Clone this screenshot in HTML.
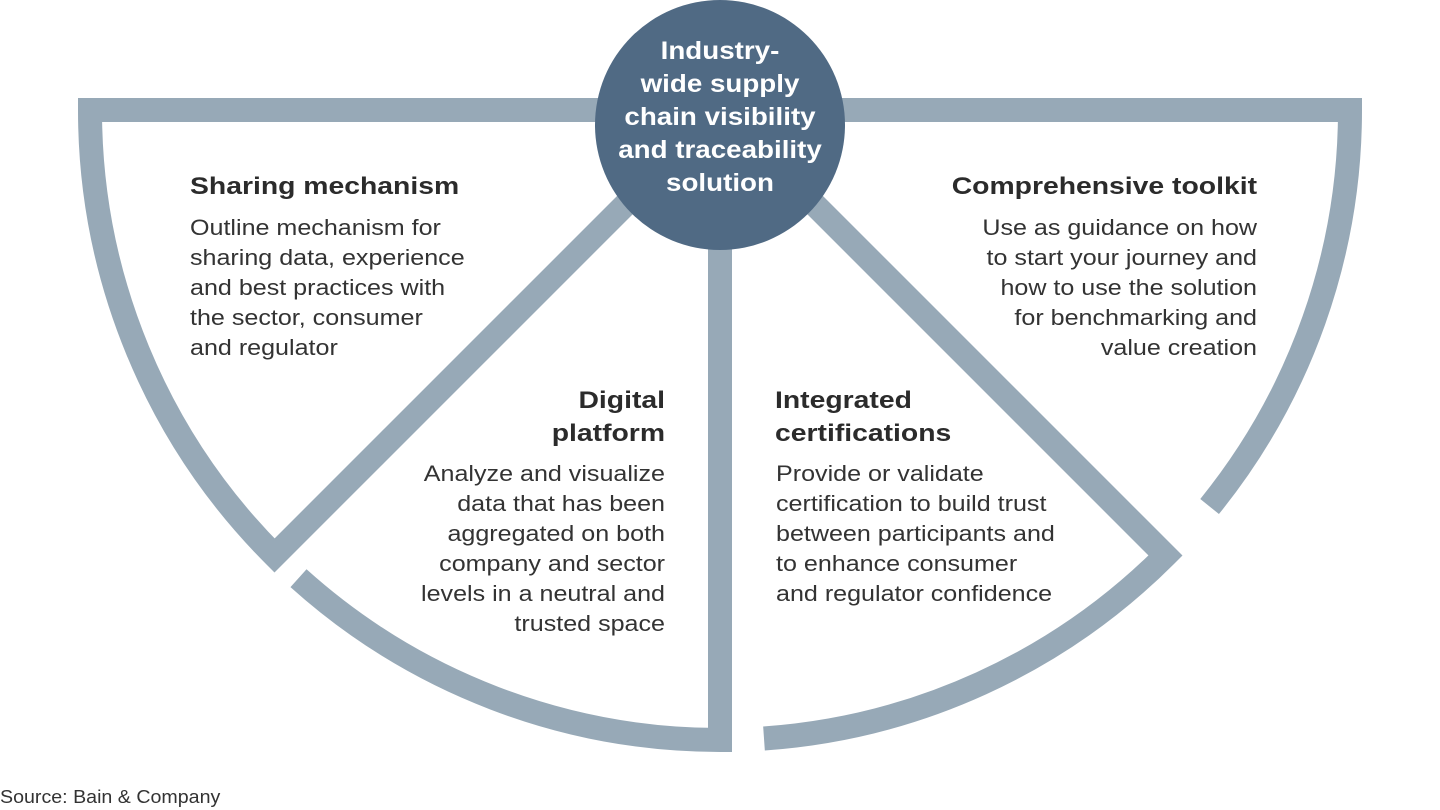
<!DOCTYPE html>
<html><head><meta charset="utf-8"><style>
body{margin:0;width:1440px;height:810px;background:#fff;position:relative;overflow:hidden;font-family:"Liberation Sans",Arial,sans-serif;color:#333}
.t{position:absolute;font-weight:bold;font-size:24px;line-height:33px;color:#2b2b2b;white-space:nowrap;transform:scaleX(1.18);transform-origin:left top}
.b{position:absolute;font-size:22px;line-height:30px;color:#333;white-space:nowrap;transform:scaleX(1.14);transform-origin:left top}
.r{text-align:right;transform-origin:right top}
</style></head><body>
<svg width="1440" height="810" style="position:absolute;left:0;top:0">
<g fill="none" stroke="#97a9b7" stroke-width="24" stroke-linejoin="miter" stroke-miterlimit="10">
<path d="M640,110 L90,110 A630 630 0 0 0 274.5,555.5 L640,190"/>
<path d="M298.5,578.2 A630 630 0 0 0 720,740 L720,240"/>
<path d="M764,738.5 A630 630 0 0 0 1165.5,555.5 L800,190"/>
<path d="M830,110 L1350,110 A630 630 0 0 1 1209.6,506.5"/>
</g>
<circle cx="720" cy="125" r="125" fill="#506a84"/>
</svg>
<div class="t" style="left:595px;top:35px;width:250px;text-align:center;color:#fff;font-size:25px;line-height:33px;transform:scaleX(1.11);transform-origin:center top">Industry-<br>wide supply<br>chain visibility<br>and traceability<br>solution</div>

<div class="t" style="left:190px;top:170px">Sharing mechanism</div>
<div class="b" style="left:190px;top:213px">Outline mechanism for<br>sharing data, experience<br>and best practices with<br>the sector, consumer<br>and regulator</div>

<div class="t r" style="left:365px;top:384px;width:300px">Digital<br>platform</div>
<div class="b r" style="left:365px;top:459px;width:300px">Analyze and visualize<br>data that has been<br>aggregated on both<br>company and sector<br>levels in a neutral and<br>trusted space</div>

<div class="t" style="left:775px;top:384px">Integrated<br>certifications</div>
<div class="b" style="left:776px;top:459px">Provide or validate<br>certification to build trust<br>between participants and<br>to enhance consumer<br>and regulator confidence</div>

<div class="t r" style="left:857px;top:170px;width:400px">Comprehensive toolkit</div>
<div class="b r" style="left:857px;top:213px;width:400px">Use as guidance on how<br>to start your journey and<br>how to use the solution<br>for benchmarking and<br>value creation</div>

<div class="b" style="left:0;top:785px;font-size:18px;line-height:24px;transform:scaleX(1.09)">Source: Bain &amp; Company</div>
</body></html>
